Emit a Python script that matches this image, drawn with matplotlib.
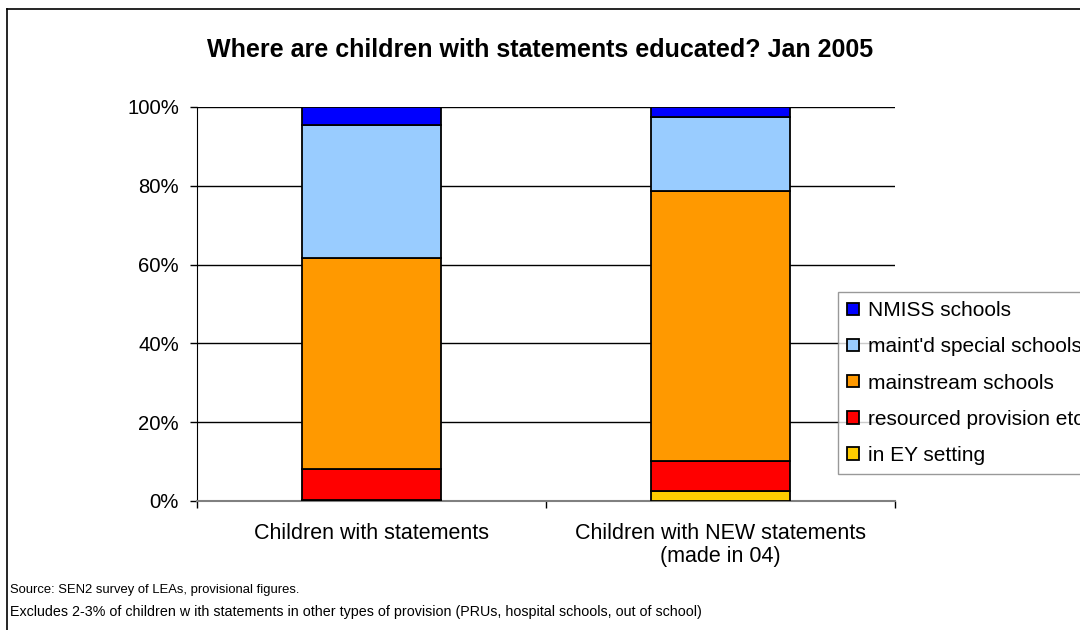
import numpy as np
import matplotlib
matplotlib.use("Agg")
import matplotlib.pyplot as plt
from matplotlib.lines import Line2D

plt.rcParams['font.family'] = ['Liberation Sans', 'DejaVu Sans']

# categories along x
groups = ["Children with statements", "Children with NEW statements\n(made in 04)"]

# share of children (%) by type of setting, bottom to top
ey_setting = [0.3, 2.6]
resourced = [7.9, 7.5]
mainstream = [53.5, 68.5]
special = [33.8, 18.9]
nmiss = [4.5, 2.5]

series = [
    ("in EY setting", ey_setting, "#FFCC00"),
    ("resourced provision etc", resourced, "#FF0000"),
    ("mainstream schools", mainstream, "#FF9900"),
    ("maint'd special schools", special, "#99CCFF"),
    ("NMISS schools", nmiss, "#0000FF"),
]

fig = plt.figure(figsize=(10.8, 6.3), dpi=100)
ax = fig.add_axes([0.1824, 0.2048, 0.6463, 0.6254])

x = np.arange(len(groups))
bottom = np.zeros(len(groups))
handles = []
for name, vals, col in series:
    b = ax.bar(x, vals, 0.4, bottom=bottom, color=col, edgecolor="black",
               linewidth=1.3, label=name, zorder=3)
    bottom += np.array(vals)
    handles.append(b)

ax.set_xlim(-0.5, 1.5)
ax.set_ylim(0, 100)
ax.set_yticks(np.arange(0, 101, 20))
ax.set_yticklabels([f"{v}%" for v in range(0, 101, 20)], fontsize=14.6)
ax.yaxis.grid(True, color="black", linewidth=1)
ax.set_axisbelow(True)
ax.tick_params(axis="y", direction="out", length=5, width=1, pad=8)

ax.set_xticks(x)
ax.set_xticklabels(groups, fontsize=15.5, linespacing=1.1)
ax.set_xticks([-0.5, 0.5, 1.5], minor=True)
ax.tick_params(axis="x", which="major", length=0, pad=16)
ax.tick_params(axis="x", which="minor", direction="out", length=5, width=1)

for s in ["top", "right"]:
    ax.spines[s].set_visible(False)
ax.spines["left"].set_color("black")
ax.spines["bottom"].set_color("#808080")
ax.spines["bottom"].set_linewidth(1.5)

fig.suptitle("Where are children with statements educated? Jan 2005",
             x=0.5, y=1 - 50 / 630, va="center", fontsize=18, fontweight="bold")

leg = fig.legend(handles[::-1], [s[0] for s in series][::-1],
                 loc="upper left", bbox_to_anchor=(838 / 1080, 1 - 292 / 630),
                 fontsize=15, frameon=True, fancybox=False, borderpad=0.45,
                 handlelength=0.55, handleheight=0.55, handletextpad=0.45,
                 labelspacing=0.82, borderaxespad=0)
leg.get_frame().set_edgecolor("#808080")
leg.get_frame().set_linewidth(1)

fig.text(10 / 1080, 1 - 590 / 630, "Source: SEN2 survey of LEAs, provisional figures.",
         fontsize=9.4, va="center")
fig.text(10 / 1080, 1 - 612 / 630,
         "Excludes 2-3% of children w ith statements in other types of provision "
         "(PRUs, hospital schools, out of school)",
         fontsize=10.3, va="center")

# outer chart border (top and left only visible)
fig.add_artist(Line2D([7 / 1080, 1], [1 - 9 / 630, 1 - 9 / 630], color="black", linewidth=1.2))
fig.add_artist(Line2D([7 / 1080, 7 / 1080], [0, 1 - 9 / 630], color="black", linewidth=1.2))

fig.savefig("out.png", dpi=100)
